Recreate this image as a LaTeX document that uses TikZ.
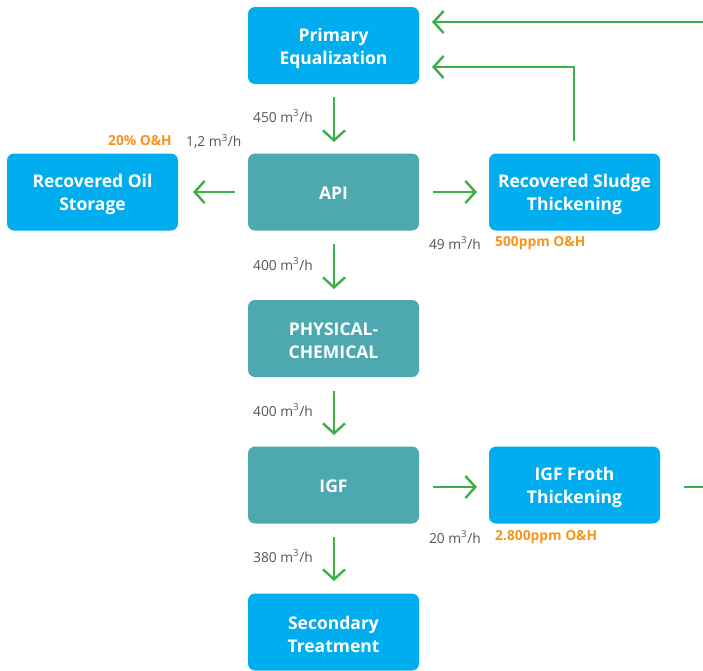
\documentclass[tikz,border=0pt]{standalone}
\usepackage{fontspec}
\setmainfont{Open Sans}
\usetikzlibrary{arrows.meta}
\definecolor{cblue}{RGB}{0,174,239}
\definecolor{cteal}{RGB}{77,169,175}
\definecolor{cgreen}{RGB}{61,175,73}
\definecolor{corange}{RGB}{247,148,29}
\definecolor{cgray}{RGB}{85,85,85}
\tikzset{
  boxb/.style={fill=cblue, rounded corners=7pt, minimum width=171pt, minimum height=77pt, inner sep=0pt},
  boxt/.style={boxb, fill=cteal},
  btext/.style={text=white, font=\fontsize{17.5}{23}\selectfont\bfseries, align=center, inner sep=0pt, yshift=-2.5pt},
  flow/.style={draw=cgreen, line width=2.4pt, -{Straight Barb[length=10pt,width=22pt,line width=2.4pt]}},
  flowplain/.style={draw=cgreen, line width=2.4pt},
  lbl/.style={text=cgray, font=\fontsize{13.8}{16}\selectfont, inner sep=0pt},
  olbl/.style={text=corange, font=\fontsize{13.8}{16}\selectfont\bfseries, inner sep=0pt}
}
\begin{document}
\begin{tikzpicture}[x=1pt,y=-1pt]
\useasboundingbox (0,0) rectangle (703,670);
\node[boxb, label={[btext]center:{Primary\\Equalization}}] (pe) at (333.5,45.5) {};
\node[boxt, label={[btext,yshift=1.5pt]center:{API}}] (api) at (333.5,192) {};
\node[boxb, label={[btext]center:{Recovered Oil\\Storage}}] (oil) at (92.5,192) {};
\node[boxb, label={[btext]center:{Recovered Sludge\\Thickening}}] (sl) at (574.5,192) {};
\node[boxt, label={[btext]center:{PHYSICAL-\\CHEMICAL}}] (pc) at (333.5,338.5) {};
\node[boxt, label={[btext,yshift=1.5pt]center:{IGF}}] (igf) at (333.5,485) {};
\node[boxb, label={[btext]center:{IGF Froth\\Thickening}}] (fr) at (574.5,485) {};
\node[boxb, label={[btext]center:{Secondary\\Treatment}}] (st) at (333.5,632) {};

% coordinates for arrows
\coordinate (t1s) at (703,22);
\coordinate (t1e) at (432,22);
\coordinate (t2s) at (574,141);
\coordinate (t2m) at (574,67);
\coordinate (t2e) at (432,67);
\draw[flow] (t1s) -- (t1e);
\draw[flow] (t2s) -- (t2m) -- (t2e);

\coordinate (a1s) at (334,97); \coordinate (a1e) at (334,142);
\coordinate (a2s) at (334,244); \coordinate (a2e) at (334,289);
\coordinate (a3s) at (334,391); \coordinate (a3e) at (334,435);
\coordinate (a4s) at (334,537); \coordinate (a4e) at (334,581);
\draw[flow] (a1s) -- (a1e);
\draw[flow] (a2s) -- (a2e);
\draw[flow] (a3s) -- (a3e);
\draw[flow] (a4s) -- (a4e);

\coordinate (l1s) at (235,192); \coordinate (l1e) at (193,192);
\draw[flow] (l1s) -- (l1e);
\coordinate (r1s) at (433,192); \coordinate (r1e) at (477,192);
\draw[flow] (r1s) -- (r1e);
\coordinate (r2s) at (433,487); \coordinate (r2e) at (477,487);
\draw[flow] (r2s) -- (r2e);
\coordinate (r3s) at (684,487); \coordinate (r3e) at (703,487);
\draw[flowplain] (r3s) -- (r3e);

% labels
\node[lbl, anchor=east] (q1) at (313,116) {450 m\textsuperscript{3}/h};
\node[olbl, anchor=east] (o1) at (172,141) {20\% O\&H};
\node[lbl, anchor=west] (q2) at (186,141) {1,2 m\textsuperscript{3}/h};
\node[lbl, anchor=east] (q3) at (481,243) {49 m\textsuperscript{3}/h};
\node[olbl, anchor=west] (o2) at (495,243) {500ppm O\&H};
\node[lbl, anchor=east] (q4) at (313,264) {400 m\textsuperscript{3}/h};
\node[lbl, anchor=east] (q5) at (313,410) {400 m\textsuperscript{3}/h};
\node[lbl, anchor=east] (q6) at (313,556) {380 m\textsuperscript{3}/h};
\node[lbl, anchor=east] (q7) at (481,537) {20 m\textsuperscript{3}/h};
\node[olbl, anchor=west] (o3) at (495,537) {2.800ppm O\&H};
\end{tikzpicture}
\end{document}
